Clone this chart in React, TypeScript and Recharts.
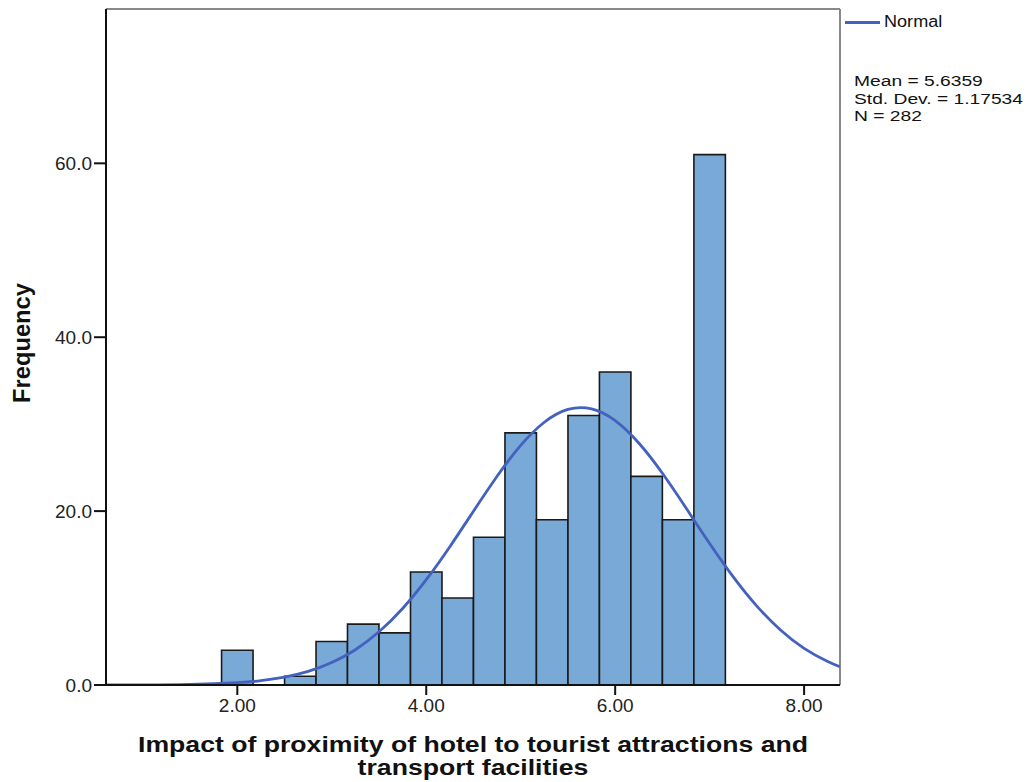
import {
  ComposedChart,
  Line,
  XAxis,
  YAxis,
  ReferenceArea,
  ReferenceLine,
} from "recharts";

// histogram bins (centre of each 1/3-wide bin) and their counts
const binCenters = [2.0, 2.333, 2.667, 3.0, 3.333, 3.667, 4.0, 4.333, 4.667, 5.0, 5.333, 5.667, 6.0, 6.333, 6.667, 7.0];
const binCounts = [4, 0, 1, 5, 7, 6, 13, 10, 17, 29, 19, 31, 36, 24, 19, 61];
const binWidth = 0.3333;

// fitted normal curve, sampled along the x axis
const curveX = [0.61, 1.0, 1.5, 2.0, 2.25, 2.5, 2.75, 3.0, 3.25, 3.5, 3.75, 4.0, 4.25, 4.5, 4.75, 5.0, 5.25, 5.5, 5.75, 6.0, 6.25, 6.5, 6.75, 7.0, 7.25, 7.5, 7.75, 8.0, 8.25, 8.38];
const curveY = [0.003, 0.013, 0.065, 0.27, 0.5, 0.91, 1.56, 2.58, 4.06, 6.12, 8.8, 12.11, 15.91, 19.99, 24.01, 27.56, 30.22, 31.69, 31.75, 30.41, 27.83, 24.35, 20.36, 16.27, 12.43, 9.07, 6.33, 4.22, 2.69, 2.1];

const xTicks = [2, 4, 6, 8];
const yTicks = [0, 20, 40, 60];
const X_DOMAIN: [number, number] = [0.61, 8.38];
const Y_DOMAIN: [number, number] = [0, 77.75];

const stats = ["Mean = 5.6359", "Std. Dev. = 1.17534", "N = 282"];

const FONT = '"Liberation Sans", Arial, sans-serif';
const BAR_FILL = "#79a9d6";
const CURVE = "#4361bf";

const curveData = curveX.map((x, i) => ({ x, normal: curveY[i] }));

export default function App() {
  return (
    <div
      style={{
        position: "fixed",
        left: 0,
        top: 0,
        width: 1031,
        height: 782,
        background: "#fff",
        fontFamily: FONT,
      }}
    >
      <ComposedChart
        width={1031}
        height={782}
        data={curveData}
        margin={{ top: 9, right: 191, bottom: 0, left: 0 }}
      >
        <XAxis
          type="number"
          dataKey="x"
          domain={X_DOMAIN}
          ticks={xTicks}
          allowDataOverflow
          tickFormatter={(v: number) => v.toFixed(2)}
          height={97}
          tickSize={10}
          tickMargin={4}
          axisLine={{ stroke: "#111", strokeWidth: 2 }}
          tickLine={{ stroke: "#111", strokeWidth: 2 }}
          tick={{ fill: "#222", fontSize: 19, fontFamily: FONT }}
        />
        <YAxis
          type="number"
          domain={Y_DOMAIN}
          ticks={yTicks}
          allowDataOverflow
          tickFormatter={(v: number) => v.toFixed(1)}
          width={106}
          tickSize={12}
          tickMargin={2}
          axisLine={{ stroke: "#111", strokeWidth: 2 }}
          tickLine={{ stroke: "#111", strokeWidth: 2 }}
          tick={{ fill: "#222", fontSize: 19, fontFamily: FONT }}
        />
        {/* frame on top and right of the plot */}
        <ReferenceLine y={Y_DOMAIN[1]} stroke="#888" strokeWidth={2} />
        <ReferenceLine x={X_DOMAIN[1]} stroke="#888" strokeWidth={2} />
        {binCenters.map((c, i) =>
          binCounts[i] > 0 ? (
            <ReferenceArea
              key={c}
              x1={c - binWidth / 2}
              x2={c + binWidth / 2}
              y1={0}
              y2={binCounts[i]}
              fill={BAR_FILL}
              fillOpacity={1}
              stroke="#1a1a1a"
              strokeWidth={1.6}
            />
          ) : null
        )}
        <Line
          type="natural"
          dataKey="normal"
          name="Normal"
          stroke={CURVE}
          strokeWidth={2.8}
          dot={false}
          activeDot={false}
          isAnimationActive={false}
        />
      </ComposedChart>

      {/* legend */}
      <div style={{ position: "absolute", left: 845, top: 13, display: "flex", alignItems: "center" }}>
        <div style={{ width: 35, height: 3, background: CURVE }} />
        <span
          style={{
            fontSize: 16,
            color: "#111",
            marginLeft: 4,
            display: "inline-block",
            transform: "scaleX(1.13)",
            transformOrigin: "left center",
          }}
        >
          Normal
        </span>
      </div>

      {/* summary statistics */}
      <div style={{ position: "absolute", left: 854, top: 72, fontSize: 15.5, lineHeight: "17.5px", color: "#111" }}>
        {stats.map((s) => (
          <div key={s} style={{ transform: "scaleX(1.24)", transformOrigin: "left center", whiteSpace: "nowrap" }}>
            {s}
          </div>
        ))}
      </div>

      {/* y axis title */}
      <div
        style={{
          position: "absolute",
          left: 22,
          top: 343,
          transform: "translate(-50%, -50%) rotate(-90deg) scaleX(1.03)",
          fontSize: 23,
          fontWeight: 700,
          color: "#111",
          whiteSpace: "nowrap",
        }}
      >
        Frequency
      </div>

      {/* x axis title */}
      <div
        style={{
          position: "absolute",
          left: 473,
          top: 733,
          transform: "translateX(-50%) scaleX(1.21)",
          fontSize: 22,
          fontWeight: 700,
          lineHeight: "23px",
          color: "#111",
          textAlign: "center",
          whiteSpace: "nowrap",
        }}
      >
        Impact of proximity of hotel to tourist attractions and
        <br />
        transport facilities
      </div>
    </div>
  );
}
